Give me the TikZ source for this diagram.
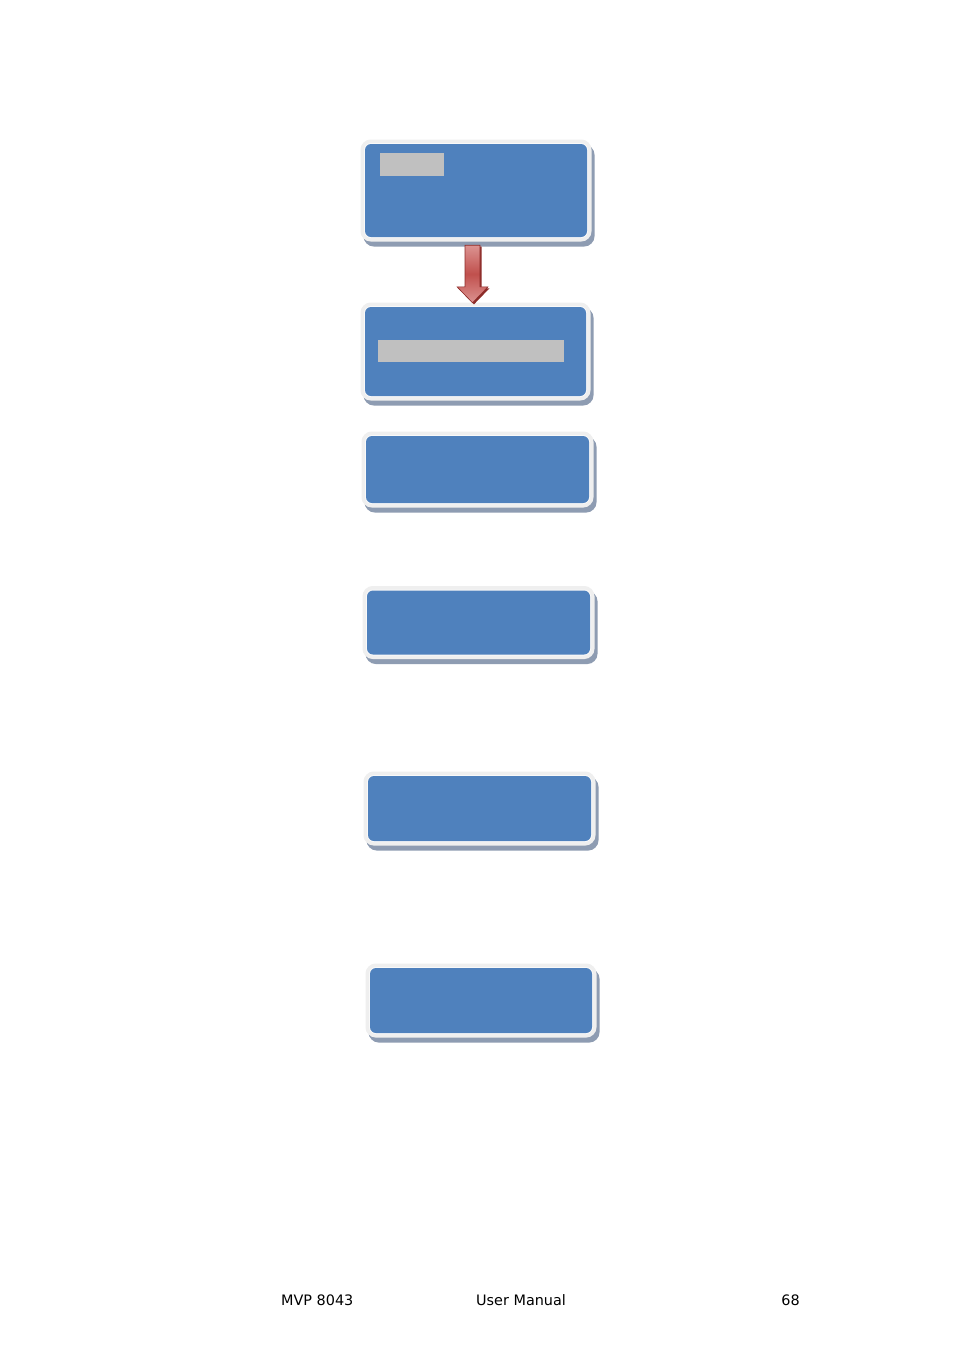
\documentclass[tikz,border=0pt]{standalone}
\usepackage{fontspec}
\setmainfont{DejaVu Sans}
\usetikzlibrary{calc}
\definecolor{boxblue}{HTML}{4F81BD}
\definecolor{boxframe}{HTML}{EFEFEF}
\definecolor{boxshadow}{HTML}{8E9CB2}
\definecolor{bargray}{HTML}{C0C0C0}
\definecolor{arrowred}{HTML}{C0504D}
\definecolor{arrowlight}{HTML}{DC9391}
\definecolor{arrowdark}{HTML}{8C2B28}
\begin{document}
\begin{tikzpicture}[x=1pt,y=-1pt,
    box/.style={rectangle,rounded corners=6pt,fill=boxblue,inner sep=0pt,
      preaction={fill=boxshadow,draw=boxshadow,line width=9pt,
                 transform canvas={xshift=3pt,yshift=-5pt}},
      preaction={draw=boxframe,line width=9pt},
      preaction={draw=white!60!boxframe,line width=2pt}},
    bar/.style={rectangle,fill=bargray,inner sep=0pt},
    foot/.style={font=\fontsize{14.4}{17}\selectfont,inner sep=0pt}]
    \useasboundingbox[fill=white] (0,0) rectangle (954,1350);

    \node[box,minimum width=222,minimum height=93] (b1) at (476,190.5) {};
    \node[box,minimum width=221,minimum height=89] (b2) at (475.5,351.5) {};
    \node[box,minimum width=223,minimum height=67] (b3) at (477.5,469.5) {};
    \node[box,minimum width=223,minimum height=64] (b4) at (478.5,622.5) {};
    \node[box,minimum width=223,minimum height=65] (b5) at (479.5,808.5) {};
    \node[box,minimum width=222,minimum height=65] (b6) at (481,1000.5) {};

    \node[bar,minimum width=64,minimum height=23] (t1) at (412,164.5) {};
    \node[bar,minimum width=186,minimum height=22] (t2) at (471,351) {};

    \shade[top color=arrowlight,bottom color=arrowlight,middle color=arrowred,
           draw=arrowdark,line width=0.6pt,line join=miter,
           preaction={fill=arrowdark,transform canvas={xshift=1.5pt,yshift=-1.5pt}}]
      ($(b1.south)+(-11,8)$) -- ($(b1.south)+(4,8)$) --
      ($(b2.north)+(4.5,-20)$) -- ($(b2.north)+(12.5,-20)$) --
      ($(b2.north)+(-3,-4)$) -- ($(b2.north)+(-18.5,-20)$) --
      ($(b2.north)+(-10.5,-20)$) -- cycle;

    \node[foot,anchor=west] (model) at (281,1300) {MVP 8043};
    \node[foot,anchor=west] (title) at (476,1300) {User Manual};
    \node[foot,anchor=east] (page) at (800,1300) {68};
  \end{tikzpicture}
\end{document}
